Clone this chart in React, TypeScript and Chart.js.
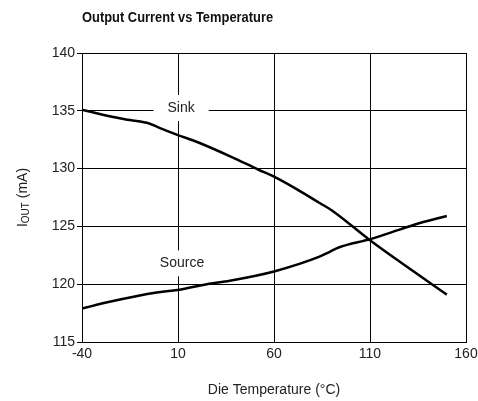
import React, { useEffect, useRef } from "react";
import { Chart, registerables } from "chart.js";

Chart.register(...registerables);

const chartTitle = "Output Current vs Temperature";
const xAxisTitle = "Die Temperature (°C)";
const yAxisMain = "I";
const yAxisSub = "OUT";
const yAxisRest = " (mA)";

const xTickValues = [-40, 10, 60, 110, 160];
const yTickValues = [115, 120, 125, 130, 135, 140];

const sinkTemps = [-40, -25, -15, -5, 0, 10, 20, 38, 52, 60, 72, 84, 90, 110, 125, 150];
const sinkCurrent = [135.1, 134.5, 134.2, 133.9, 133.55, 132.9, 132.3, 131.0, 129.9, 129.3, 128.2, 127.0, 126.4, 123.8, 122.0, 119.1];

const sourceTemps = [-40, -25, -6, 4, 10, 25, 37, 60, 84, 89, 94, 110, 125, 136, 150];
const sourceCurrent = [117.9, 118.5, 119.15, 119.4, 119.5, 120.0, 120.3, 121.1, 122.4, 122.8, 123.2, 123.9, 124.7, 125.3, 125.9];

const seriesLabels = [
  { text: "Sink", x: 11.6, y: 135.24 },
  { text: "Source", x: 12.1, y: 121.8 },
];

const FONT = "'Liberation Sans', Arial, sans-serif";

const overlayPlugin = {
  id: "overlay",
  beforeDatasetsDraw(chart: any) {
    const ctx = chart.ctx;
    const xs = chart.scales.x;
    const ys = chart.scales.y;
    ctx.save();
    ctx.font = `14px ${FONT}`;
    ctx.textAlign = "center";
    ctx.textBaseline = "middle";
    for (const l of seriesLabels) {
      const px = xs.getPixelForValue(l.x);
      const py = ys.getPixelForValue(l.y);
      const w = ctx.measureText(l.text).width + 28;
      const h = 26;
      ctx.fillStyle = "#ffffff";
      ctx.fillRect(px - w / 2, py - h / 2, w, h);
      ctx.fillStyle = "#222";
      ctx.fillText(l.text, px, py);
    }
    ctx.restore();
  },
  afterDraw(chart: any) {
    const ctx = chart.ctx;
    const area = chart.chartArea;
    ctx.save();
    // title (condensed bold)
    ctx.save();
    ctx.fillStyle = "#111";
    ctx.font = `bold 15px ${FONT}`;
    ctx.textAlign = "left";
    ctx.textBaseline = "middle";
    ctx.translate(area.left, 18);
    ctx.scale(0.86, 1);
    ctx.fillText(chartTitle, 0, 0);
    ctx.restore();
    // x title
    ctx.fillStyle = "#222";
    ctx.font = `14px ${FONT}`;
    ctx.textAlign = "center";
    ctx.textBaseline = "middle";
    ctx.fillText(xAxisTitle, (area.left + area.right) / 2, 390);
    // y title with subscript
    ctx.translate(23, (area.top + area.bottom) / 2);
    ctx.rotate(-Math.PI / 2);
    ctx.textAlign = "left";
    ctx.textBaseline = "middle";
    ctx.font = `14px ${FONT}`;
    const w1 = ctx.measureText(yAxisMain).width;
    const w3 = ctx.measureText(yAxisRest).width;
    ctx.font = `10px ${FONT}`;
    const w2 = ctx.measureText(yAxisSub).width;
    let x = -(w1 + w2 + w3) / 2;
    ctx.font = `14px ${FONT}`;
    ctx.fillText(yAxisMain, x, 0);
    x += w1;
    ctx.font = `10px ${FONT}`;
    ctx.fillText(yAxisSub, x, 3);
    x += w2;
    ctx.font = `14px ${FONT}`;
    ctx.fillText(yAxisRest, x, 0);
    ctx.restore();
  },
};

export default function App() {
  const ref = useRef<HTMLCanvasElement>(null);
  useEffect(() => {
    if (!ref.current) return;
    const chart = new Chart(ref.current, {
      type: "line",
      data: {
        datasets: [
          {
            label: "Sink",
            data: sinkTemps.map((t, i) => ({ x: t, y: sinkCurrent[i] })),
            borderColor: "#000",
            borderWidth: 2.5,
            pointRadius: 0,
            cubicInterpolationMode: "monotone",
          },
          {
            label: "Source",
            data: sourceTemps.map((t, i) => ({ x: t, y: sourceCurrent[i] })),
            borderColor: "#000",
            borderWidth: 2.5,
            pointRadius: 0,
            cubicInterpolationMode: "monotone",
          },
        ],
      },
      options: {
        animation: false,
        responsive: false,
        layout: { padding: { left: 0, right: 12, top: 53, bottom: 0 } },
        plugins: { legend: { display: false }, tooltip: { enabled: false }, title: { display: false } },
        scales: {
          x: {
            type: "linear",
            min: -40,
            max: 160,
            afterBuildTicks: (s: any) => {
              s.ticks = xTickValues.map((v) => ({ value: v }));
            },
            afterFit: (s: any) => {
              s.height = 59;
              s.paddingLeft = 0;
              s.paddingRight = 0;
            },
            grid: { color: "#000", lineWidth: 1, tickLength: 0, drawTicks: false },
            border: { color: "#000", width: 1 },
            ticks: { color: "#222", font: { family: FONT, size: 14 }, padding: 4, maxRotation: 0, autoSkip: false },
          },
          y: {
            type: "linear",
            min: 115,
            max: 140,
            afterBuildTicks: (s: any) => {
              s.ticks = yTickValues.map((v) => ({ value: v }));
            },
            afterFit: (s: any) => {
              s.width = 82;
              s.paddingTop = 0;
              s.paddingBottom = 0;
            },
            grid: { color: "#000", lineWidth: 1, tickLength: 5 },
            border: { color: "#000", width: 1 },
            ticks: { color: "#222", font: { family: FONT, size: 14 }, padding: 2 },
          },
        },
      },
      plugins: [overlayPlugin],
    } as any);
    return () => chart.destroy();
  }, []);
  return (
    <div style={{ position: "absolute", left: 0, top: 0, width: 478, height: 401, background: "#fff" }}>
      <canvas ref={ref} width={478} height={401} />
    </div>
  );
}
